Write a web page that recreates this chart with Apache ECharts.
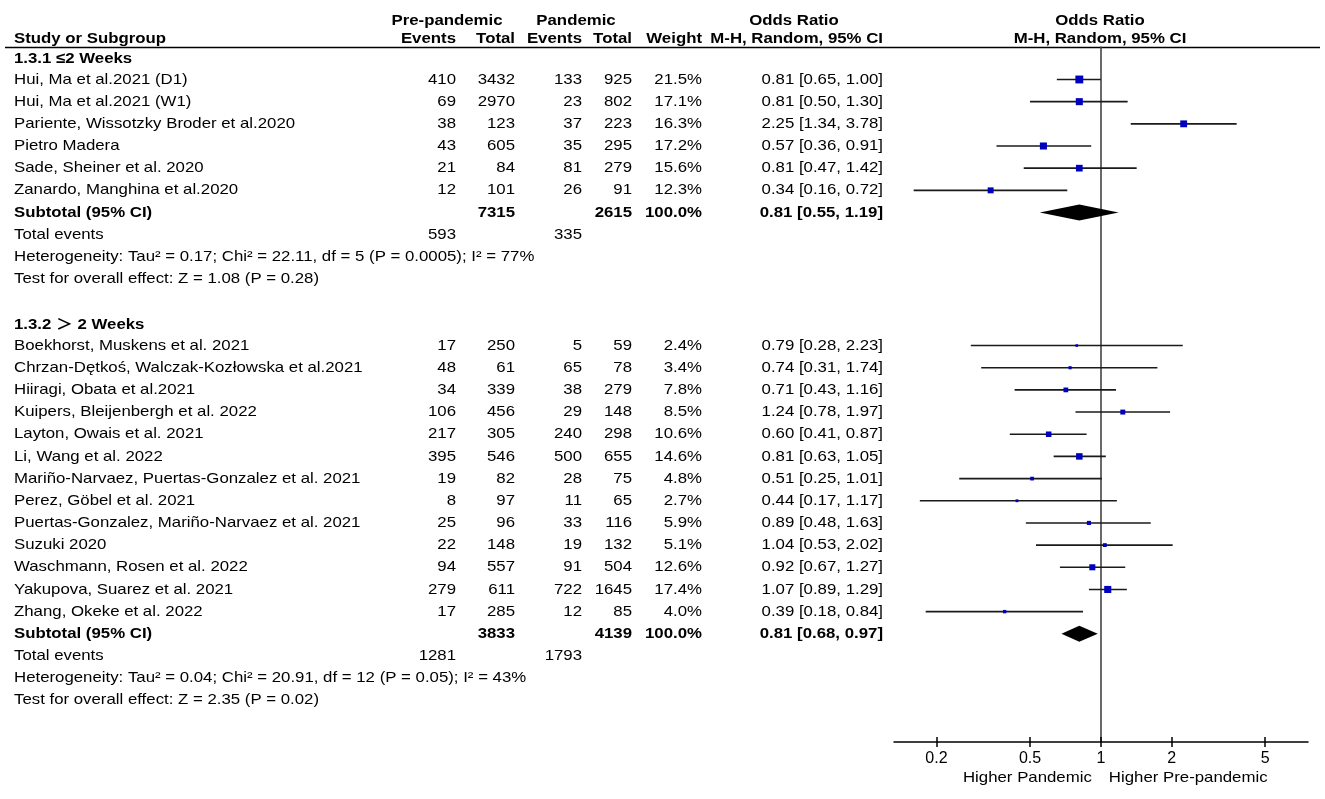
<!DOCTYPE html>
<html>
<head>
<meta charset="utf-8">
<script src="https://cdn.jsdelivr.net/npm/echarts@6/dist/echarts.min.js"></script>
<style>
  body { margin: 0; background: #fff; }
  #forest-id { width: 1325px; height: 799px; }
</style>
</head>
<body>
<div id="forest-id"></div>
<script>
// subgroup 1.3.1
var g1Title = '1.3.1 ≤2 Weeks';
var g1Studies = ['Hui, Ma et al.2021 (D1)', 'Hui, Ma et al.2021 (W1)', 'Pariente, Wissotzky Broder et al.2020',
    'Pietro Madera', 'Sade, Sheiner et al. 2020', 'Zanardo, Manghina et al.2020'];
var g1PreEvents = [410, 69, 38, 43, 21, 12];
var g1PreTotal = [3432, 2970, 123, 605, 84, 101];
var g1PanEvents = [133, 23, 37, 35, 81, 26];
var g1PanTotal = [925, 802, 223, 295, 279, 91];
var g1Weight = [21.5, 17.1, 16.3, 17.2, 15.6, 12.3];
var g1OR = [0.81, 0.81, 2.25, 0.57, 0.81, 0.34];
var g1Lower = [0.65, 0.50, 1.34, 0.36, 0.47, 0.16];
var g1Upper = [1.00, 1.30, 3.78, 0.91, 1.42, 0.72];

// subgroup 1.3.2
var g2Title = '1.3.2 ＞ 2 Weeks';
var g2Studies = ['Boekhorst, Muskens et al. 2021', 'Chrzan-Dętkoś, Walczak-Kozłowska et al.2021', 'Hiiragi, Obata et al.2021',
    'Kuipers, Bleijenbergh et al. 2022', 'Layton, Owais et al. 2021', 'Li, Wang et al. 2022',
    'Mariño-Narvaez, Puertas-Gonzalez et al. 2021', 'Perez, Göbel et al. 2021', 'Puertas-Gonzalez, Mariño-Narvaez et al. 2021',
    'Suzuki 2020', 'Waschmann, Rosen et al. 2022', 'Yakupova, Suarez et al. 2021', 'Zhang, Okeke et al. 2022'];
var g2PreEvents = [17, 48, 34, 106, 217, 395, 19, 8, 25, 22, 94, 279, 17];
var g2PreTotal = [250, 61, 339, 456, 305, 546, 82, 97, 96, 148, 557, 611, 285];
var g2PanEvents = [5, 65, 38, 29, 240, 500, 28, 11, 33, 19, 91, 722, 12];
var g2PanTotal = [59, 78, 279, 148, 298, 655, 75, 65, 116, 132, 504, 1645, 85];
var g2Weight = [2.4, 3.4, 7.8, 8.5, 10.6, 14.6, 4.8, 2.7, 5.9, 5.1, 12.6, 17.4, 4.0];
var g2OR = [0.79, 0.74, 0.71, 1.24, 0.60, 0.81, 0.51, 0.44, 0.89, 1.04, 0.92, 1.07, 0.39];
var g2Lower = [0.28, 0.31, 0.43, 0.78, 0.41, 0.63, 0.25, 0.17, 0.48, 0.53, 0.67, 0.89, 0.18];
var g2Upper = [2.23, 1.74, 1.16, 1.97, 0.87, 1.05, 1.01, 1.17, 1.63, 2.02, 1.27, 1.29, 0.84];

// subtotals, one entry per subgroup
var subPreTotal = [7315, 3833];
var subPanTotal = [2615, 4139];
var subOR = [0.81, 0.81];
var subLower = [0.55, 0.68];
var subUpper = [1.19, 0.97];
var totPreEvents = [593, 1281];
var totPanEvents = [335, 1793];
var hetText = ['Heterogeneity: Tau² = 0.17; Chi² = 22.11, df = 5 (P = 0.0005); I² = 77%',
    'Heterogeneity: Tau² = 0.04; Chi² = 20.91, df = 12 (P = 0.05); I² = 43%'];
var effectText = ['Test for overall effect: Z = 1.08 (P = 0.28)', 'Test for overall effect: Z = 2.35 (P = 0.02)'];

var tickValues = [0.2, 0.5, 1, 2, 5];
var axisMinOR = 0.132;
var axisMaxOR = 7.6;

var FONT = '"Liberation Sans", Arial, "Noto Sans CJK SC", sans-serif';
var FS = 15;
var WIDEN = 1.12; // reference glyphs are wider than Arial

// columns (right aligned unless noted)
var cols = { study: 14, preEv: 456, preTot: 515, panEv: 582, panTot: 632, weight: 702, or: 883 };

function fmt2(v) { return v.toFixed(2); }
function orText(o, l, u) { return fmt2(o) + ' [' + fmt2(l) + ', ' + fmt2(u) + ']'; }

// build table rows
var rows = [];
var ciData = [];
var diamondData = [];
var groups = [
    [g1Title, g1Studies, g1PreEvents, g1PreTotal, g1PanEvents, g1PanTotal, g1Weight, g1OR, g1Lower, g1Upper],
    [g2Title, g2Studies, g2PreEvents, g2PreTotal, g2PanEvents, g2PanTotal, g2Weight, g2OR, g2Lower, g2Upper]
];
var r = 0;
for (var g = 0; g < groups.length; g++) {
    var G = groups[g];
    rows.push({ row: r + 0.08, cells: [[cols.study, G[0], 'left', true]] });
    r++;
    for (var i = 0; i < G[1].length; i++) {
        rows.push({ row: r, cells: [
            [cols.study, G[1][i], 'left', false],
            [cols.preEv, String(G[2][i]), 'right', false],
            [cols.preTot, String(G[3][i]), 'right', false],
            [cols.panEv, String(G[4][i]), 'right', false],
            [cols.panTot, String(G[5][i]), 'right', false],
            [cols.weight, G[6][i].toFixed(1) + '%', 'right', false],
            [cols.or, orText(G[7][i], G[8][i], G[9][i]), 'right', false]
        ]});
        ciData.push([Math.log10(G[8][i]), Math.log10(G[9][i]), r, Math.log10(G[7][i]), G[6][i]]);
        r++;
    }
    rows.push({ row: r, cells: [
        [cols.study, 'Subtotal (95% CI)', 'left', true],
        [cols.preTot, String(subPreTotal[g]), 'right', true],
        [cols.panTot, String(subPanTotal[g]), 'right', true],
        [cols.weight, '100.0%', 'right', true],
        [cols.or, orText(subOR[g], subLower[g], subUpper[g]), 'right', true]
    ]});
    diamondData.push([Math.log10(subLower[g]), Math.log10(subUpper[g]), r, Math.log10(subOR[g])]);
    r++;
    rows.push({ row: r, cells: [
        [cols.study, 'Total events', 'left', false],
        [cols.preEv, String(totPreEvents[g]), 'right', false],
        [cols.panEv, String(totPanEvents[g]), 'right', false]
    ]});
    r++;
    rows.push({ row: r, cells: [[cols.study, hetText[g], 'left', false]] });
    r++;
    rows.push({ row: r, cells: [[cols.study, effectText[g], 'left', false]] });
    r++;
    r++; // blank row between subgroups
}

// header rows sit above the first row
rows.push({ row: -1.64, cells: [
    [447, 'Pre-pandemic', 'center', true],
    [576, 'Pandemic', 'center', true],
    [794, 'Odds Ratio', 'center', true],
    [1100, 'Odds Ratio', 'center', true]
]});
rows.push({ row: -0.84, cells: [
    [cols.study, 'Study or Subgroup', 'left', true],
    [cols.preEv, 'Events', 'right', true],
    [cols.preTot, 'Total', 'right', true],
    [cols.panEv, 'Events', 'right', true],
    [cols.panTot, 'Total', 'right', true],
    [cols.weight, 'Weight', 'right', true],
    [cols.or, 'M-H, Random, 95% CI', 'right', true],
    [1100, 'M-H, Random, 95% CI', 'center', true]
]});

function renderCI(params, api) {
    var lo = api.coord([api.value(0), api.value(2)]);
    var hi = api.coord([api.value(1), api.value(2)]);
    var mid = api.coord([api.value(3), api.value(2)]);
    var side = Math.max(2.5, 1.7 * Math.sqrt(api.value(4)));
    return {
        type: 'group',
        children: [
            { type: 'line', shape: { x1: lo[0], y1: lo[1], x2: hi[0], y2: hi[1] },
              style: { stroke: '#1a1a1a', lineWidth: 1.6 } },
            { type: 'rect', shape: { x: mid[0] - side / 2, y: mid[1] - side / 2, width: side, height: side },
              style: { fill: '#0000bf' } }
        ]
    };
}

function renderDiamond(params, api) {
    var lo = api.coord([api.value(0), api.value(2)]);
    var hi = api.coord([api.value(1), api.value(2)]);
    var mid = api.coord([api.value(3), api.value(2)]);
    var h = 8;
    return {
        type: 'polygon',
        shape: { points: [[lo[0], lo[1]], [mid[0], mid[1] - h], [hi[0], hi[1]], [mid[0], mid[1] + h]] },
        style: { fill: '#000' }
    };
}

var logTicks = tickValues.map(function (v) { return Math.log10(v); });

var dom = document.getElementById('forest-id');
var myChart = echarts.init(dom, null, { renderer: 'canvas' });

var option = {
    backgroundColor: '#fff',
    animation: false,
    grid: { left: 894, right: 17, top: 47, bottom: 57 },
    xAxis: [
        {
            type: 'value',
            min: Math.log10(axisMinOR),
            max: Math.log10(axisMaxOR),
            axisLine: { onZero: false, lineStyle: { color: '#000', width: 1.5 } },
            axisTick: { show: true, customValues: logTicks, length: 5, lineStyle: { color: '#000', width: 1.5 } },
            axisLabel: {
                customValues: logTicks,
                margin: 9,
                color: '#000',
                fontFamily: FONT,
                fontSize: 16,
                formatter: function (v) { return String(Number(Math.pow(10, v).toPrecision(2))); }
            },
            splitLine: { show: false }
        },
        {
            type: 'value',
            position: 'bottom',
            min: Math.log10(axisMinOR),
            max: Math.log10(axisMaxOR),
            axisLine: { show: false, onZero: false },
            axisTick: { show: true, inside: true, customValues: logTicks, length: 5, lineStyle: { color: '#000', width: 1.5 } },
            axisLabel: { show: false },
            splitLine: { show: false }
        }
    ],
    yAxis: {
        type: 'value',
        inverse: true,
        min: -0.465,
        max: 30.88,
        axisLine: { show: true, onZero: true, lineStyle: { color: '#444', width: 1.6 } },
        axisTick: { show: false },
        axisLabel: { show: false },
        splitLine: { show: false }
    },
    series: [
        {
            name: 'studies',
            type: 'custom',
            renderItem: renderCI,
            encode: { x: [0, 1, 3], y: 2 },
            data: ciData,
            z: 3
        },
        {
            name: 'subtotals',
            type: 'custom',
            renderItem: renderDiamond,
            encode: { x: [0, 1, 3], y: 2 },
            data: diamondData,
            z: 3
        }
    ]
};

if (option && typeof option === 'object') {
    myChart.setOption(option);
}

function textEl(x, y, text, align, bold) {
    return {
        type: 'text',
        x: x,
        y: y,
        scaleX: WIDEN,
        style: {
            text: text,
            align: align,
            verticalAlign: 'middle',
            fill: '#000',
            font: (bold ? 'bold ' : '') + FS + 'px ' + FONT
        }
    };
}

// table text placed on the same row scale as the plot
var graphics = [];
for (var k = 0; k < rows.length; k++) {
    var y = myChart.convertToPixel({ yAxisIndex: 0 }, rows[k].row);
    for (var c = 0; c < rows[k].cells.length; c++) {
        var cell = rows[k].cells[c];
        graphics.push(textEl(cell[0], y, cell[1], cell[2], cell[3]));
    }
}
// rule under the header
graphics.push({
    type: 'line',
    shape: { x1: 5, y1: 47.5, x2: 1320, y2: 47.5 },
    style: { stroke: '#000', lineWidth: 1.6 }
});
// direction labels under the axis
var zeroX = myChart.convertToPixel({ xAxisIndex: 0 }, 0);
graphics.push(textEl(zeroX - 9, 778, 'Higher Pandemic', 'right', false));
graphics.push(textEl(zeroX + 8, 778, 'Higher Pre-pandemic', 'left', false));

myChart.setOption({ graphic: graphics });
</script>
</body>
</html>
